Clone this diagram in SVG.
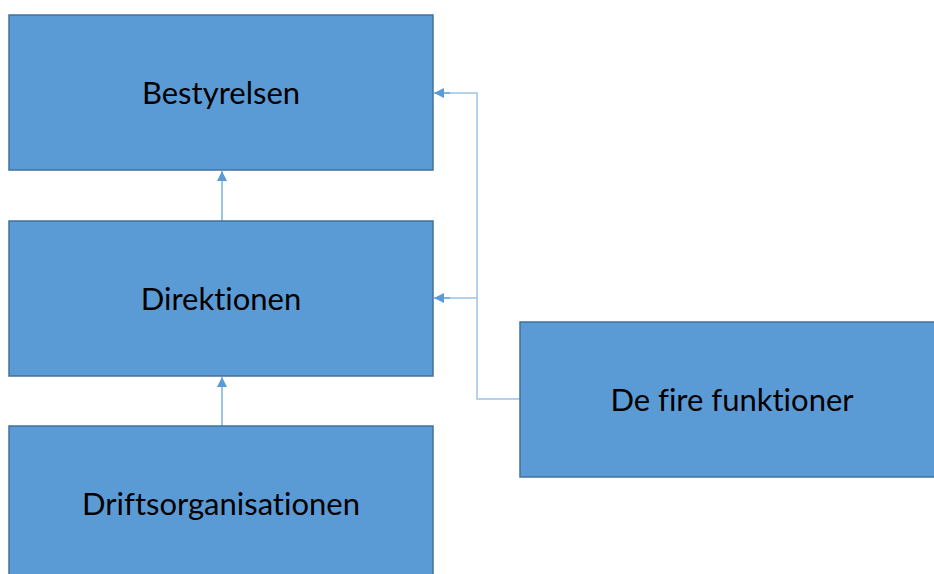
<svg xmlns="http://www.w3.org/2000/svg" width="934" height="574" viewBox="0 0 934 574">
<style>
.box{fill:#5B9BD5;stroke:#41719C;stroke-width:1.5}
.lbl{font-family:Lato,"Open Sans",sans-serif;font-size:31px;fill:#000;text-anchor:middle;font-variant-ligatures:none}
.c{fill:none;stroke:#5B9BD5;stroke-width:1.2}
.cl{fill:none;stroke:#9DC3E6;stroke-width:1.5}
</style>
<defs>
<marker id="a" viewBox="0 0 10 10" refX="10" refY="5" markerWidth="10" markerHeight="10" markerUnits="userSpaceOnUse" orient="auto"><path d="M0,0L10,5L0,10z" fill="#5B9BD5"/></marker>
</defs>
<rect width="934" height="574" fill="#fff"/>
<g id="connectors">
<path class="c" d="M222,221V171" marker-end="url(#a)"/>
<path class="c" d="M222,426V377" marker-end="url(#a)"/>
<path class="cl" d="M520,399H477V93H436"/>
<path class="c" d="M450,93H434" marker-end="url(#a)"/>
<path class="cl" d="M477,298H436"/>
<path class="c" d="M450,298H434" marker-end="url(#a)"/>
</g>
<g id="bestyrelsen"><rect class="box" x="9" y="15" width="424" height="155"/><text class="lbl" x="221" y="104">Bestyrelsen</text></g>
<g id="direktionen"><rect class="box" x="9" y="221" width="424" height="155"/><text class="lbl" x="221" y="310">Direktionen</text></g>
<g id="driftsorganisationen"><rect class="box" x="9" y="426" width="424" height="160"/><text class="lbl" x="221" y="515">Driftsorganisationen</text></g>
<g id="defirefunktioner"><rect class="box" x="520" y="322" width="424" height="155"/><text class="lbl" x="732" y="411">De fire funktioner</text></g>
</svg>
